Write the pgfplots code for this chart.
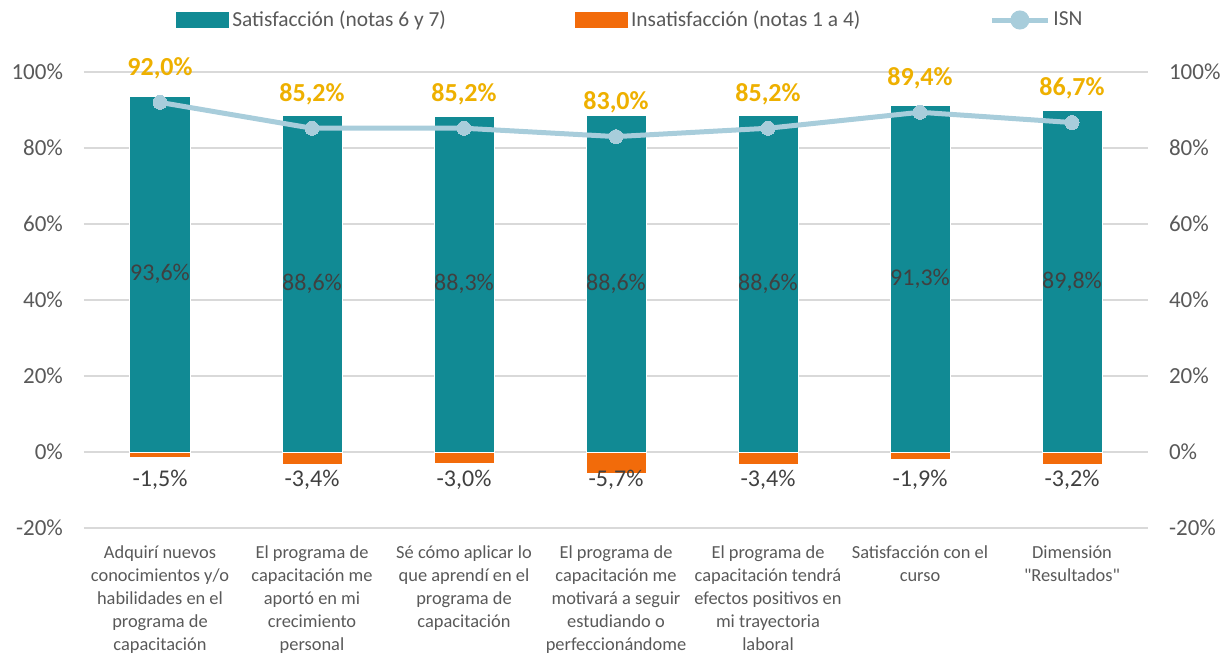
\documentclass[border=0pt]{standalone}
\usepackage{fontspec}
\setmainfont{Carlito}[Ligatures=TeXOff]
\usepackage{pgfplots}
\pgfplotsset{compat=1.18}

\definecolor{satcol}{HTML}{118A94}
\definecolor{inscol}{HTML}{F26B0A}
\definecolor{isncol}{HTML}{A8CDDB}
\definecolor{isnlbl}{HTML}{EEB000}
\definecolor{txtcol}{HTML}{595959}
\definecolor{barlbl}{HTML}{404040}
\definecolor{gridcol}{HTML}{D9D9D9}

\begin{document}
\begin{tikzpicture}
\begin{axis}[
  scale only axis,
  width=532pt, height=228pt,
  xmin=-0.5, xmax=6.5,
  ymin=-20, ymax=100,
  ytick={-20,0,20,40,60,80,100},
  yticklabel={\pgfmathprintnumber{\tick}\%},
  xtick={0,1,2,3,4,5,6},
  xticklabels={
    {Adquirí nuevos\\conocimientos y/o\\habilidades en el\\programa de\\capacitación},
    {El programa de\\capacitación me\\aportó en mi\\crecimiento\\personal},
    {Sé cómo aplicar lo\\que aprendí en el\\programa de\\capacitación},
    {El programa de\\capacitación me\\motivará a seguir\\estudiando o\\perfeccionándome},
    {El programa de\\capacitación tendrá\\efectos positivos en\\mi trayectoria\\laboral},
    {Satisfacción con el\\curso},
    {Dimensión\\"Resultados"}},
  xticklabel style={align=center, font=\fontsize{9.2}{11.5}\selectfont,
    text=txtcol, anchor=north, yshift=-5.5pt},
  yticklabel style={font=\fontsize{11.5}{13}\selectfont, text=txtcol, xshift=-7pt},
  axis line style={draw=none},
  major tick length=0pt,
  ymajorgrids,
  grid style={draw=gridcol, line width=1pt},
  /pgf/number format/assume math mode=true,
  /pgf/number format/use comma,
  legend style={at={(axis description cs:0.514,1.114)}, anchor=center,
    draw=none, fill=none, legend columns=3,
    font=\fontsize{10.7}{12}\selectfont, text=txtcol,
    /tikz/every even column/.append style={column sep=63pt},
    nodes={inner sep=1.5pt}},
  legend cell align=left,
]
% Satisfaccion
\addplot[ybar, bar width=30pt, bar shift=0pt, fill=satcol, draw=white, line width=0.5pt,
  visualization depends on=rawy\as\ry,
  nodes near coords={\pgfmathprintnumber[fixed,fixed zerofill,precision=1]{\pgfplotspointmeta}\%},
  every node near coord/.append style={anchor=center, yshift={-0.95pt*\ry},
    font=\fontsize{12}{14}\selectfont, text=barlbl},
  legend image code/.code={\fill[satcol] (0pt,-3.6pt) rectangle (26pt,3.6pt);}]
  coordinates {(0,93.6) (1,88.6) (2,88.3) (3,88.6) (4,88.6) (5,91.3) (6,89.8)};
\addlegendentry{Satisfacción (notas 6 y 7)}
% Insatisfaccion
\addplot[ybar, bar width=30pt, bar shift=0pt, fill=inscol, draw=white, line width=0.5pt,
  visualization depends on=rawy\as\ry,
  nodes near coords={\pgfmathprintnumber[fixed,fixed zerofill,precision=1]{\pgfplotspointmeta}\%},
  every node near coord/.append style={anchor=center, yshift={-1.9pt*(7.4+\ry)},
    font=\fontsize{12}{14}\selectfont, text=barlbl},
  legend image code/.code={\fill[inscol] (0pt,-3.6pt) rectangle (26pt,3.6pt);}]
  coordinates {(0,-1.5) (1,-3.4) (2,-3.0) (3,-5.7) (4,-3.4) (5,-1.9) (6,-3.2)};
\addlegendentry{Insatisfacción (notas 1 a 4)}
% ISN
\addplot[color=isncol, line width=2.5pt, mark=*, mark size=3.5pt,
  mark options={fill=isncol, draw=isncol, line width=0pt},
  nodes near coords={\pgfmathprintnumber[fixed,fixed zerofill,precision=1]{\pgfplotspointmeta}\%},
  every node near coord/.append style={anchor=center, yshift=17pt,
    font=\bfseries\fontsize{13}{15}\selectfont, text=isnlbl},
  legend image code/.code={\draw[isncol, line width=2.5pt] (0pt,0pt) -- (28pt,0pt);
    \fill[isncol] (14pt,0pt) circle (3.5pt);}]
  coordinates {(0,92.0) (1,85.2) (2,85.2) (3,83.0) (4,85.2) (5,89.4) (6,86.7)};
\addlegendentry{ISN}
\end{axis}
\begin{axis}[
  scale only axis,
  width=532pt, height=228pt,
  xmin=-0.5, xmax=6.5,
  ymin=-20, ymax=100,
  axis y line*=right, axis x line=none,
  axis line style={draw=none},
  major tick length=0pt,
  ytick={-20,0,20,40,60,80,100},
  yticklabel={\pgfmathprintnumber{\tick}\%},
  yticklabel style={font=\fontsize{11.5}{13}\selectfont, text=txtcol, anchor=west, xshift=7pt},
  /pgf/number format/assume math mode=true,
]
\end{axis}
\pgfresetboundingbox
\path[use as bounding box] ([shift={(-42pt,-62.5pt)}]current axis.south west)
  rectangle ([shift={(41.5pt,36pt)}]current axis.north east);
\end{tikzpicture}
\end{document}
